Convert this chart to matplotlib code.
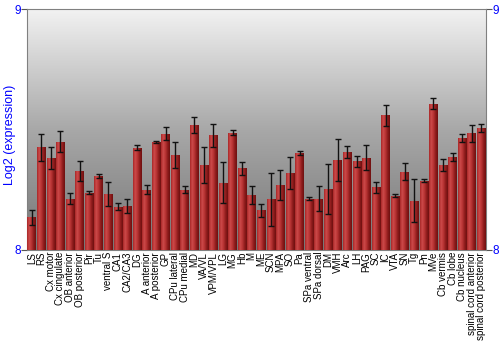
import numpy as np
import matplotlib
matplotlib.use("Agg")
import matplotlib.pyplot as plt
from matplotlib.colors import LinearSegmentedColormap

plt.rcParams["font.family"] = ["Liberation Sans", "DejaVu Sans"]

regions = [
    "LS", "RS", "Cx motor", "Cx cingulate", "OB anterior", "OB posterior",
    "Pir", "Tu", "ventral S", "CA1", "CA2/CA3", "DG", "A anterior",
    "A posterior", "GP", "CPu lateral", "CPu medial", "MD", "VA/VL",
    "VPM/VPL", "LG", "MG", "Hb", "M", "ME", "SCN", "MPA", "SO", "Pa",
    "SPa ventral", "SPa dorsal", "DM", "VMH", "Arc", "LH", "PAG", "SC",
    "IC", "VTA", "SN", "Tg", "Pn", "MVe", "Cb vermis", "Cb lobe",
    "Cb nucleus", "spinal cord anterior", "spinal cord posterior",
]
expression = [
    8.135, 8.426, 8.382, 8.450, 8.213, 8.328, 8.238, 8.307, 8.232, 8.180,
    8.183, 8.425, 8.250, 8.447, 8.483, 8.395, 8.251, 8.518, 8.354, 8.476,
    8.279, 8.488, 8.339, 8.228, 8.164, 8.210, 8.270, 8.319, 8.403, 8.213,
    8.213, 8.254, 8.375, 8.408, 8.368, 8.383, 8.260, 8.560, 8.225, 8.325,
    8.205, 8.288, 8.608, 8.353, 8.386, 8.465, 8.485, 8.507,
]
error = [
    0.033, 0.058, 0.045, 0.043, 0.023, 0.043, 0.005, 0.010, 0.050, 0.015,
    0.028, 0.010, 0.018, 0.004, 0.028, 0.055, 0.016, 0.033, 0.076, 0.049,
    0.085, 0.011, 0.028, 0.036, 0.027, 0.110, 0.061, 0.067, 0.010, 0.006,
    0.051, 0.104, 0.088, 0.026, 0.024, 0.052, 0.022, 0.044, 0.006, 0.036,
    0.090, 0.007, 0.022, 0.023, 0.016, 0.017, 0.036, 0.017,
]

fig = plt.figure(figsize=(5, 3.5), dpi=100)
ax = fig.add_axes([0.054, 0.286, 0.918, 0.687])
ax.set_xlim(-0.5, len(regions) - 0.5)
ax.set_ylim(8, 9)

# background gradient, light at top, darker towards the bottom
bg = LinearSegmentedColormap.from_list("bg", ["#767676", "#a8a8a8", "#f2f2f2"])
ax.imshow(np.linspace(0, 1, 256).reshape(-1, 1), cmap=bg, aspect="auto",
          extent=(-0.5, len(regions) - 0.5, 8, 9), origin="lower", zorder=0)

x = np.arange(len(regions))
bars = ax.bar(x, np.array(expression) - 8, bottom=8, width=0.9,
              color="#b03030", edgecolor="none", zorder=2)

# horizontal red shading inside each bar
shade = LinearSegmentedColormap.from_list(
    "bar", ["#a82828", "#cc4a4a", "#b83434", "#8e1c1c", "#6e1010"])
grad = np.linspace(0, 1, 64).reshape(1, -1)
for b in bars:
    x0, y0 = b.get_x(), b.get_y()
    im = ax.imshow(grad, cmap=shade, aspect="auto",
                   extent=(x0, x0 + b.get_width(), y0, y0 + b.get_height()),
                   zorder=3)
    im.set_clip_path(b)

ax.errorbar(x, expression, yerr=error, fmt="none", ecolor="#111111",
            elinewidth=1, capsize=2, capthick=1, zorder=4)

ax.set_xticks(x)
ax.set_xticklabels(regions, rotation=90, fontsize=7)
ax.tick_params(axis="x", length=0, pad=1.5)
ax.set_yticks([8, 9])
ax.tick_params(axis="y", labelsize=8.5, labelcolor="blue", length=4,
               color="#555555", pad=0.5, right=True, labelright=True)
ax.set_ylabel("Log2 (expression)", color="blue", fontsize=9,
              va="center", ha="center")
ax.yaxis.set_label_coords(-0.037, 0.48)
for s in ax.spines.values():
    s.set_color("#808080")

fig.savefig("out.png", dpi=100)
